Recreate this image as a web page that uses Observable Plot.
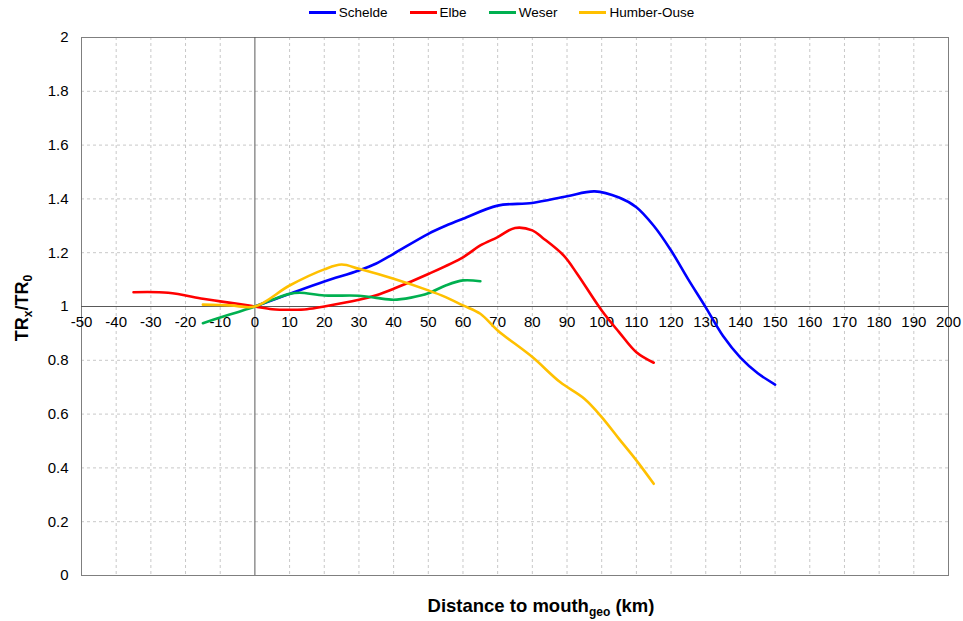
<!DOCTYPE html>
<html><head><meta charset="utf-8">
<script src="https://cdn.jsdelivr.net/npm/d3@7"></script>
<script src="https://cdn.jsdelivr.net/npm/@observablehq/plot@0.6"></script>
<style>
body{margin:0;background:#fff;font-family:"Liberation Sans",Arial,sans-serif}
#wrap{position:relative;width:963px;height:621px;overflow:hidden}
#legend{position:absolute;top:5px;left:0;width:963px;display:flex;justify-content:center;padding-left:40px;box-sizing:border-box;font-size:13.5px;color:#000;z-index:2}
#legend .item{display:flex;align-items:center;margin:0 11px}
#legend .sw{width:27px;height:3px;margin-right:3px}
</style></head><body>
<div id="wrap"><div id="legend"></div></div>
<script>
const seriesNames = ["Schelde","Elbe","Weser","Humber-Ouse"];
const seriesColors = ["#0000FF","#FF0000","#00B050","#FFC000"];

const scheldeX = [0,10,20,30,35,40,50,55,60,70,80,90,98,105,110,115,120,125,130,135,140,145,150];
const scheldeY = [1.0,1.047,1.093,1.134,1.16,1.196,1.27,1.30,1.326,1.375,1.385,1.41,1.428,1.405,1.369,1.30,1.208,1.10,0.997,0.89,0.81,0.752,0.71];

const elbeX = [-35,-25,-15,-10,-5,0,5,11,15,20,30,35,40,50,60,65,70,75,80,83,89,93,100,105,110,115];
const elbeY = [1.053,1.051,1.029,1.019,1.01,1.0,0.99,0.988,0.99,1.0,1.025,1.042,1.066,1.121,1.183,1.227,1.258,1.292,1.283,1.255,1.19,1.12,0.985,0.905,0.83,0.791];

const weserX = [-15,-10,-5,0,5,10,13,20,30,35,40,45,50,55,60,65];
const weserY = [0.938,0.959,0.979,1.0,1.025,1.047,1.051,1.041,1.04,1.032,1.025,1.033,1.049,1.078,1.097,1.094];

const humberX = [-15,-7,0,10,20,25,30,40,50,55,60,65,70,80,88,95,100,105,110,115];
const humberY = [1.007,1.004,1.0,1.078,1.138,1.156,1.14,1.103,1.06,1.035,1.004,0.973,0.911,0.812,0.719,0.657,0.589,0.508,0.428,0.341];

const xTicks = [-50,-40,-30,-20,-10,0,10,20,30,40,50,60,70,80,90,100,110,120,130,140,150,160,170,180,190,200];
const yTicks = [0,0.2,0.4,0.6,0.8,1,1.2,1.4,1.6,1.8,2];

const xs = [scheldeX, elbeX, weserX, humberX];
const ys = [scheldeY, elbeY, weserY, humberY];
const data = seriesNames.flatMap((s,i)=>xs[i].map((x,j)=>({series:s, x, y:ys[i][j]})));

const plot = Plot.plot({
  width:963, height:621,
  marginLeft:81, marginRight:15, marginTop:37, marginBottom:46,
  style:{fontFamily:"'Liberation Sans', Arial, sans-serif", fontSize:"15px", background:"#fff", color:"#000"},
  x:{domain:[-50,200], axis:null},
  y:{domain:[0,2]},
  color:{domain:seriesNames, range:seriesColors},
  marks:[
    Plot.gridX(xTicks.filter(d=>d!==-50 && d!==200 && d!==0), {stroke:"#c8c8c8", strokeOpacity:1, strokeDasharray:"3,3"}),
    Plot.gridY(yTicks.filter(d=>d!==0 && d!==2 && d!==1), {stroke:"#c8c8c8", strokeOpacity:1, strokeDasharray:"3,3"}),
    Plot.frame({stroke:"#7f7f7f"}),
    Plot.ruleX([0], {stroke:"#595959"}),
    Plot.ruleY([1], {stroke:"#595959"}),
    Plot.axisY(yTicks, {tickSize:0, tickPadding:13, label:null, fontSize:15, tickFormat:d=>String(+d.toFixed(1))}),
    Plot.text(xTicks, {x:d=>d, y:()=>1, text:d=>String(d), lineAnchor:"top", dy:10, fontSize:15}),
    Plot.line(data, {x:"x", y:"y", z:"series", stroke:"series", curve:"catmull-rom", strokeWidth:2.6})
  ]
});
document.getElementById("wrap").appendChild(plot);

const svg = d3.select(plot);
const yl = svg.append("text")
  .attr("transform","translate(28,308) rotate(-90)")
  .attr("text-anchor","middle")
  .attr("font-weight","bold")
  .attr("font-size",18)
  .attr("fill","#000");
yl.append("tspan").text("TR");
yl.append("tspan").attr("font-size",12).attr("dy",4).text("x");
yl.append("tspan").attr("dy",-4).text("/TR");
yl.append("tspan").attr("font-size",12).attr("dy",4).text("0");

const xl = svg.append("text")
  .attr("x",541).attr("y",612)
  .attr("text-anchor","middle")
  .attr("font-weight","bold")
  .attr("font-size",18.5)
  .attr("fill","#000");
xl.append("tspan").text("Distance to mouth");
xl.append("tspan").attr("font-size",12).attr("dy",4).text("geo");
xl.append("tspan").attr("dy",-4).text(" (km)");

const leg = d3.select("#legend");
seriesNames.forEach((s,i)=>{
  const it = leg.append("div").attr("class","item");
  it.append("div").attr("class","sw").style("background",seriesColors[i]);
  it.append("span").text(s);
});
</script>
</body></html>
